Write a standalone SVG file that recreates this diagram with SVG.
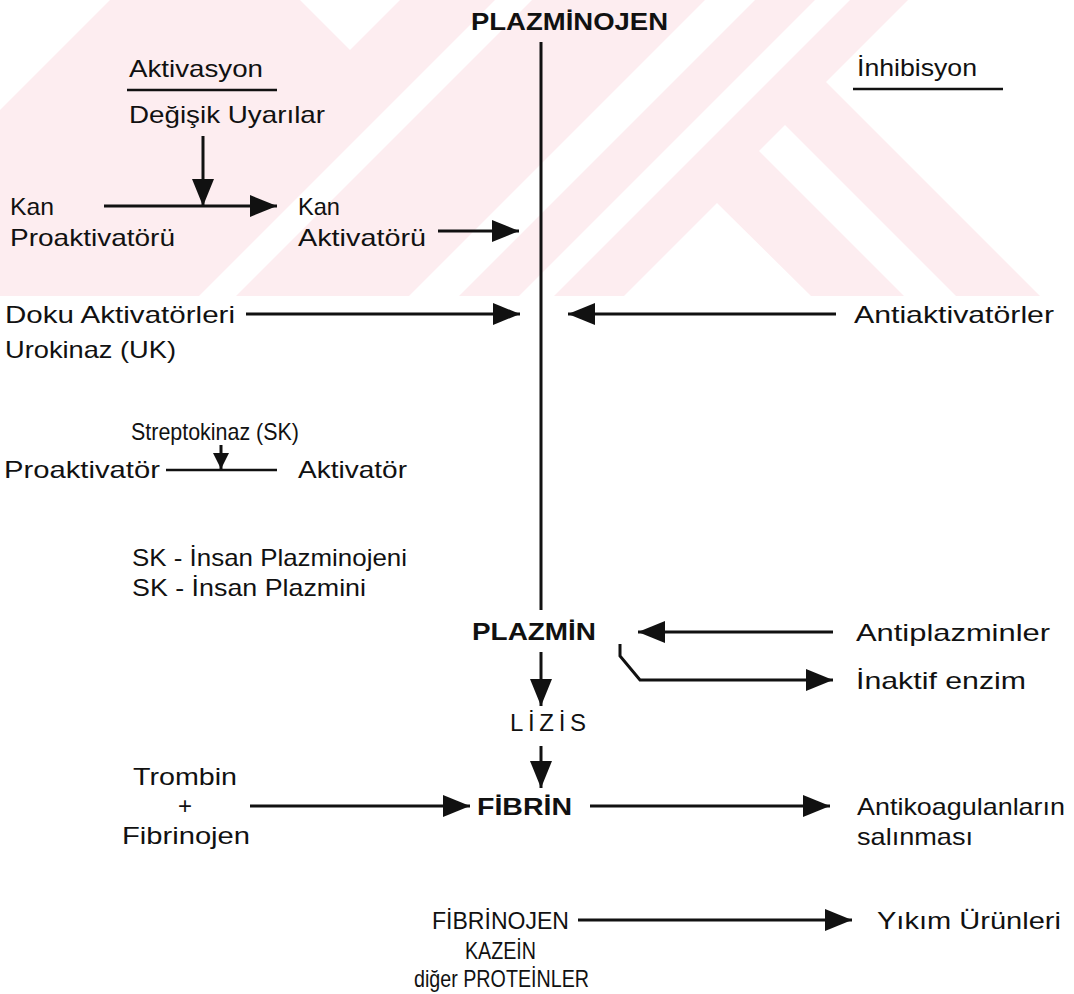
<svg xmlns="http://www.w3.org/2000/svg" width="1074" height="994" viewBox="0 0 1074 994">
<style>
.t{font-family:"Liberation Sans",Arial,Helvetica,sans-serif;font-size:24px;fill:#111}
.b{font-weight:bold}
.c{stroke:#111;stroke-width:3;fill:none}
.u{stroke:#111;stroke-width:2.5;fill:none}
.wm{fill:#fdedf0}
.wh{fill:#ffffff}
</style>
<defs>
<marker id="ah" markerUnits="userSpaceOnUse" markerWidth="27" markerHeight="22" refX="27" refY="11" orient="auto" viewBox="0 0 27 22"><path d="M0,0 L27,11 L0,22 z" fill="#111"/></marker>
<marker id="as" markerUnits="userSpaceOnUse" markerWidth="16" markerHeight="16" refX="16" refY="8" orient="auto" viewBox="0 0 16 16"><path d="M0,0 L16,8 L0,16 z" fill="#111"/></marker>
</defs>
<rect width="1074" height="994" fill="#fff"/>
<g id="watermark">
<polygon class="wm" points="110,0 908,0 826,82 1040,296 0,296 0,110"/>
<polygon class="wh" points="300,0 400,0 350,50"/>
<polygon class="wh" points="495,0 532,0 236,296 199,296"/>
<polygon class="wh" points="705,0 755,0 459,296 409,296"/>
<polygon class="wh" points="815,0 850,0 554,296 519,296"/>
<polygon class="wh" points="717,203 624,296 811,296"/>
<polygon class="wh" points="759,151 785,125 956,296 904,296"/>
</g>
<g id="connectors">
<line class="c" x1="541" y1="42" x2="541" y2="610"/>
<line class="u" x1="127" y1="90" x2="277" y2="90"/>
<line class="u" x1="853" y1="89" x2="1003" y2="89"/>
<line class="c" x1="203" y1="136" x2="203" y2="206" marker-end="url(#ah)"/>
<line class="c" x1="104" y1="206" x2="277" y2="206" marker-end="url(#ah)"/>
<line class="c" x1="438" y1="231" x2="519" y2="231" marker-end="url(#ah)"/>
<line class="c" x1="246" y1="314" x2="520" y2="314" marker-end="url(#ah)"/>
<line class="c" x1="836" y1="314" x2="568" y2="314" marker-end="url(#ah)"/>
<line class="c" x1="221" y1="445" x2="221" y2="469" marker-end="url(#as)"/>
<line class="u" x1="166" y1="470" x2="277" y2="470"/>
<line class="c" x1="833" y1="632" x2="638" y2="632" marker-end="url(#ah)"/>
<polyline class="c" points="620,644 620,656 640,680 833,680" marker-end="url(#ah)"/>
<line class="c" x1="541" y1="652" x2="541" y2="706" marker-end="url(#ah)"/>
<line class="c" x1="541" y1="746" x2="541" y2="788" marker-end="url(#ah)"/>
<line class="c" x1="250" y1="806" x2="470" y2="806" marker-end="url(#ah)"/>
<line class="c" x1="590" y1="806" x2="830" y2="806" marker-end="url(#ah)"/>
<line class="c" x1="578" y1="920" x2="852" y2="920" marker-end="url(#ah)"/>
</g>
<g id="plazminojen"><text class="t b" x="471" y="30" font-size="24" textLength="197" lengthAdjust="spacingAndGlyphs">PLAZMİNOJEN</text></g>
<g id="aktivasyon"><text class="t" x="129" y="77" textLength="134" lengthAdjust="spacingAndGlyphs">Aktivasyon</text></g>
<g id="inhibisyon"><text class="t" x="857" y="76" textLength="120" lengthAdjust="spacingAndGlyphs">İnhibisyon</text></g>
<g id="degisik"><text class="t" x="129" y="123" textLength="196" lengthAdjust="spacingAndGlyphs">Değişik Uyarılar</text></g>
<g id="kan-pro"><text class="t" x="10" y="215" textLength="44" lengthAdjust="spacingAndGlyphs">Kan</text><text class="t" x="10" y="246" textLength="165" lengthAdjust="spacingAndGlyphs">Proaktivatörü</text></g>
<g id="kan-akt"><text class="t" x="298" y="215" textLength="42" lengthAdjust="spacingAndGlyphs">Kan</text><text class="t" x="298" y="246" textLength="128" lengthAdjust="spacingAndGlyphs">Aktivatörü</text></g>
<g id="doku"><text class="t" x="5" y="323" textLength="230" lengthAdjust="spacingAndGlyphs">Doku Aktivatörleri</text><text class="t" x="5" y="358" textLength="171" lengthAdjust="spacingAndGlyphs">Urokinaz (UK)</text></g>
<g id="antiaktivatorler"><text class="t" x="854" y="323" textLength="200" lengthAdjust="spacingAndGlyphs">Antiaktivatörler</text></g>
<g id="streptokinaz"><text class="t" x="131" y="440" textLength="168" lengthAdjust="spacingAndGlyphs">Streptokinaz (SK)</text></g>
<g id="proaktivator"><text class="t" x="4" y="478" textLength="156" lengthAdjust="spacingAndGlyphs">Proaktivatör</text></g>
<g id="aktivator"><text class="t" x="298" y="478" textLength="109" lengthAdjust="spacingAndGlyphs">Aktivatör</text></g>
<g id="sk-complex"><text class="t" x="132" y="566" textLength="275" lengthAdjust="spacingAndGlyphs">SK - İnsan Plazminojeni</text><text class="t" x="132" y="596" textLength="234" lengthAdjust="spacingAndGlyphs">SK - İnsan Plazmini</text></g>
<g id="plazmin"><text class="t b" x="472" y="640" font-size="23" textLength="124" lengthAdjust="spacingAndGlyphs">PLAZMİN</text></g>
<g id="antiplazminler"><text class="t" x="856" y="641" textLength="194" lengthAdjust="spacingAndGlyphs">Antiplazminler</text></g>
<g id="inaktif"><text class="t" x="856" y="689" textLength="170" lengthAdjust="spacingAndGlyphs">İnaktif enzim</text></g>
<g id="lizis"><text class="t" x="510" y="731" textLength="76" lengthAdjust="spacing">LİZİS</text></g>
<g id="trombin"><text class="t" x="133" y="785" textLength="104" lengthAdjust="spacingAndGlyphs">Trombin</text><text class="t" x="185" y="814" text-anchor="middle">+</text><text class="t" x="122" y="844" textLength="128" lengthAdjust="spacingAndGlyphs">Fibrinojen</text></g>
<g id="fibrin"><text class="t b" x="477" y="815" font-size="23" textLength="95" lengthAdjust="spacingAndGlyphs">FİBRİN</text></g>
<g id="antikoag"><text class="t" x="857" y="815" textLength="208" lengthAdjust="spacingAndGlyphs">Antikoagulanların</text><text class="t" x="857" y="845" textLength="116" lengthAdjust="spacingAndGlyphs">salınması</text></g>
<g id="substrates"><text class="t" x="432" y="929" textLength="137" lengthAdjust="spacingAndGlyphs">FİBRİNOJEN</text><text class="t" x="465" y="959" textLength="71" lengthAdjust="spacingAndGlyphs">KAZEİN</text><text class="t" x="414" y="987" textLength="175" lengthAdjust="spacingAndGlyphs">diğer PROTEİNLER</text></g>
<g id="yikim"><text class="t" x="877" y="929" textLength="184" lengthAdjust="spacingAndGlyphs">Yıkım Ürünleri</text></g>
</svg>
